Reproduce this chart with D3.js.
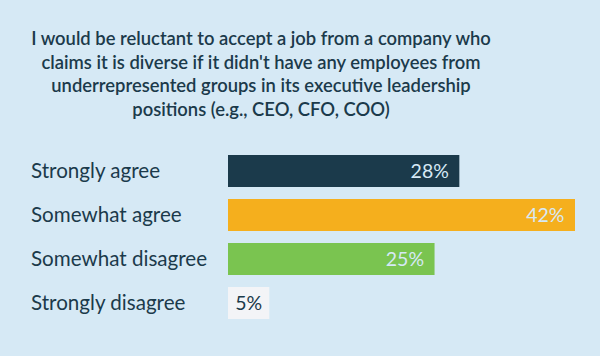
<!DOCTYPE html>
<html><head><meta charset="utf-8">
<script src="https://cdn.jsdelivr.net/npm/d3@7"></script>
<style>html,body{margin:0;padding:0;background:#d6e9f5;}svg{display:block;}</style>
</head><body>
<svg id="c" width="600" height="356"></svg>
<script>
const categories = ["Strongly agree", "Somewhat agree", "Somewhat disagree", "Strongly disagree"];
const values = [28, 42, 25, 5];
const colors = ["#1b3a4b", "#f5af1d", "#7ac450", "#f3f4f7"];
const titleLines = [
  "I would be reluctant to accept a job from a company who",
  "claims it is diverse if it didn't have any employees from",
  "underrepresented groups in its executive leadership",
  "positions (e.g., CEO, CFO, COO)"
];

const svg = d3.select("#c");
svg.append("rect").attr("width",600).attr("height",356).attr("fill","#d6e9f5");
const font = "Lato, 'Noto Sans', sans-serif";
const dark = "#1b3a4b";

const title = svg.append("text").attr("text-anchor","middle")
  .attr("font-family",font).attr("font-weight",600).attr("font-size",18.4).attr("fill",dark);
titleLines.forEach((l,i)=>title.append("tspan").attr("x",261).attr("y",45+i*23.5).text(l));

const x = d3.scaleLinear().domain([0, 42]).range([228, 575]);
const y = d3.scaleBand().domain(categories).range([155, 319]).paddingInner(12/44).paddingOuter(0);

const g = svg.append("g");
g.selectAll("rect.bar").data(categories).join("rect").attr("class","bar")
  .attr("x", x(0)).attr("y", d=>y(d))
  .attr("width", (d,i)=>x(values[i])-x(0)).attr("height", y.bandwidth())
  .attr("fill", (d,i)=>colors[i]);

g.selectAll("text.cat").data(categories).join("text").attr("class","cat")
  .attr("x",31).attr("y", d=>y(d)+y.bandwidth()/2).attr("dy","0.36em")
  .attr("font-family",font).attr("font-size",20.6).attr("fill",dark).text(d=>d);

g.selectAll("text.val").data(categories).join("text").attr("class","val")
  .attr("x",(d,i)=> values[i] < 10 ? (x(0)+x(values[i]))/2 : x(values[i])-10.5)
  .attr("text-anchor",(d,i)=> values[i] < 10 ? "middle" : "end")
  .attr("y", d=>y(d)+y.bandwidth()/2).attr("dy","0.36em")
  .attr("font-family",font).attr("font-size",19.5)
  .attr("fill",(d,i)=> values[i] < 10 ? dark : "#d6e9f5")
  .text((d,i)=>values[i]+"%");
</script>
</body></html>
